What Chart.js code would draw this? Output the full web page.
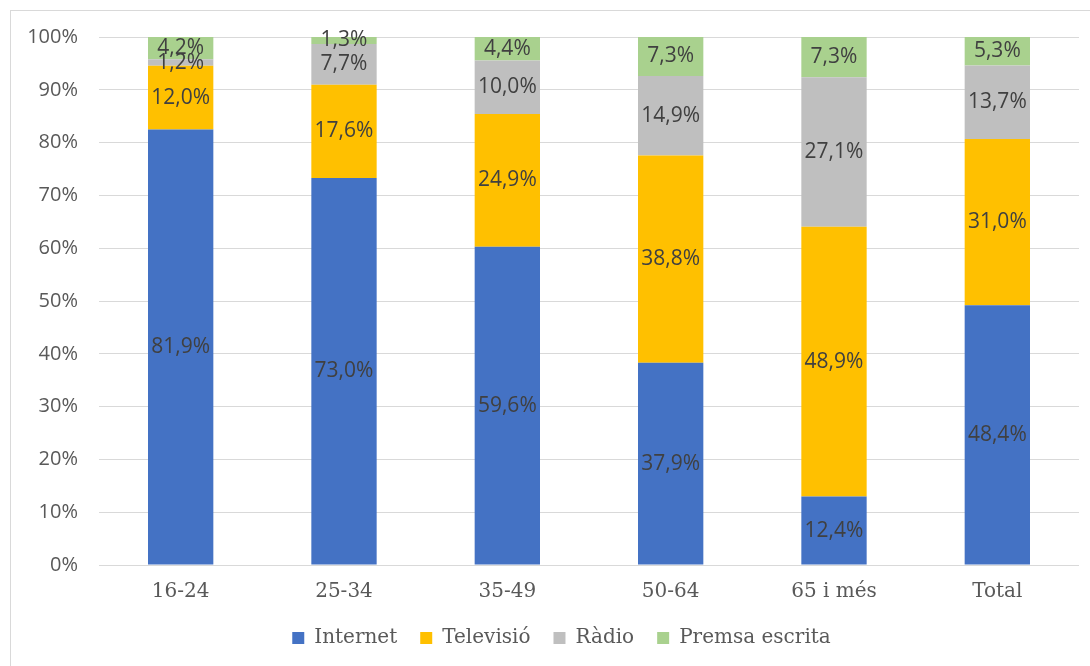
<!DOCTYPE html>
<html>
<head>
<meta charset="utf-8">
<script src="https://cdn.jsdelivr.net/npm/chart.js@4/dist/chart.umd.min.js"></script>
<style>
  html, body { margin: 0; padding: 0; background: #fff; }
  #wrap { position: relative; width: 1090px; height: 666px; }
</style>
</head>
<body>
<div id="wrap"><canvas id="c" width="1090" height="666"></canvas></div>
<script>
const categories = ['16-24', '25-34', '35-49', '50-64', '65 i més', 'Total'];
const seriesNames = ['Internet', 'Televisió', 'Ràdio', 'Premsa escrita'];
const internet  = [81.9, 73.0, 59.6, 37.9, 12.4, 48.4];
const televisio = [12.0, 17.6, 24.9, 38.8, 48.9, 31.0];
const radio     = [1.2, 7.7, 10.0, 14.9, 27.1, 13.7];
const premsa    = [4.2, 1.3, 4.4, 7.3, 7.3, 5.3];
const yTicks = [0, 10, 20, 30, 40, 50, 60, 70, 80, 90, 100];

const colors = ['#4472C4', '#FFC000', '#BFBFBF', '#A9D18E'];
const raw = [internet, televisio, radio, premsa];
const totals = categories.map((_, i) => raw.reduce((s, arr) => s + arr[i], 0));

const datasets = raw.map((arr, k) => ({
  label: seriesNames[k],
  data: arr.map((v, i) => v / totals[i] * 100),
  rawValues: arr,
  backgroundColor: colors[k],
  borderWidth: 0,
  categoryPercentage: 1.0,
  barPercentage: 0.4,
  stack: 's'
}));

const frame = {
  id: 'frame',
  beforeDraw(chart) {
    const ctx = chart.ctx;
    ctx.save();
    ctx.fillStyle = '#fff';
    ctx.fillRect(0, 0, chart.width, chart.height);
    ctx.strokeStyle = '#d9d9d9';
    ctx.lineWidth = 1;
    ctx.strokeRect(10.5, 10.5, 1200, 1000);
    ctx.restore();
  }
};

const legendShift = {
  id: 'legendShift',
  afterLayout(chart) {
    const l = chart.legend;
    if (l) { l.left += 22; l.right += 22; }
  }
};

const labelsPlugin = {
  id: 'barLabels',
  afterDatasetsDraw(chart) {
    const ctx = chart.ctx;
    ctx.save();
    ctx.font = '21px "Open Sans"';
    ctx.fillStyle = '#404040';
    ctx.textAlign = 'center';
    ctx.textBaseline = 'middle';
    chart.data.datasets.forEach((ds, k) => {
      const meta = chart.getDatasetMeta(k);
      meta.data.forEach((el, i) => {
        const v = ds.rawValues[i];
        const txt = v.toFixed(1).replace('.', ',') + '%';
        const y = (el.y + el.base) / 2;
        ctx.fillText(txt, el.x, y);
      });
    });
    ctx.restore();
  }
};

new Chart(document.getElementById('c'), {
  type: 'bar',
  data: { labels: categories, datasets },
  options: {
    responsive: false,
    animation: false,
    layout: { padding: { top: 37, right: 11, left: 0, bottom: 8 } },
    plugins: {
      tooltip: { enabled: false },
      legend: {
        position: 'bottom',
        labels: {
          boxWidth: 12,
          boxHeight: 12,
          padding: 23,
          color: '#595959',
          font: { family: '"DejaVu Serif"', size: 20 }
        }
      }
    },
    scales: {
      x: {
        stacked: true,
        afterFit(scale) { scale.height = scale.height - 14; },
        grid: { display: false, drawTicks: false },
        border: { display: false },
        ticks: {
          color: '#595959',
          padding: 15,
          font: { family: '"DejaVu Serif"', size: 20 }
        }
      },
      y: {
        stacked: true,
        min: 0,
        max: 100,
        afterBuildTicks(scale) { scale.ticks = yTicks.map(v => ({ value: v })); },
        afterFit(scale) { scale.width = 99; },
        grid: { color: '#d9d9d9', lineWidth: 1, drawTicks: false },
        border: { display: false },
        ticks: {
          color: '#595959',
          padding: 21,
          font: { family: '"Open Sans"', size: 20 },
          callback: v => v + '%'
        }
      }
    }
  },
  plugins: [frame, legendShift, labelsPlugin]
});
</script>
</body>
</html>
